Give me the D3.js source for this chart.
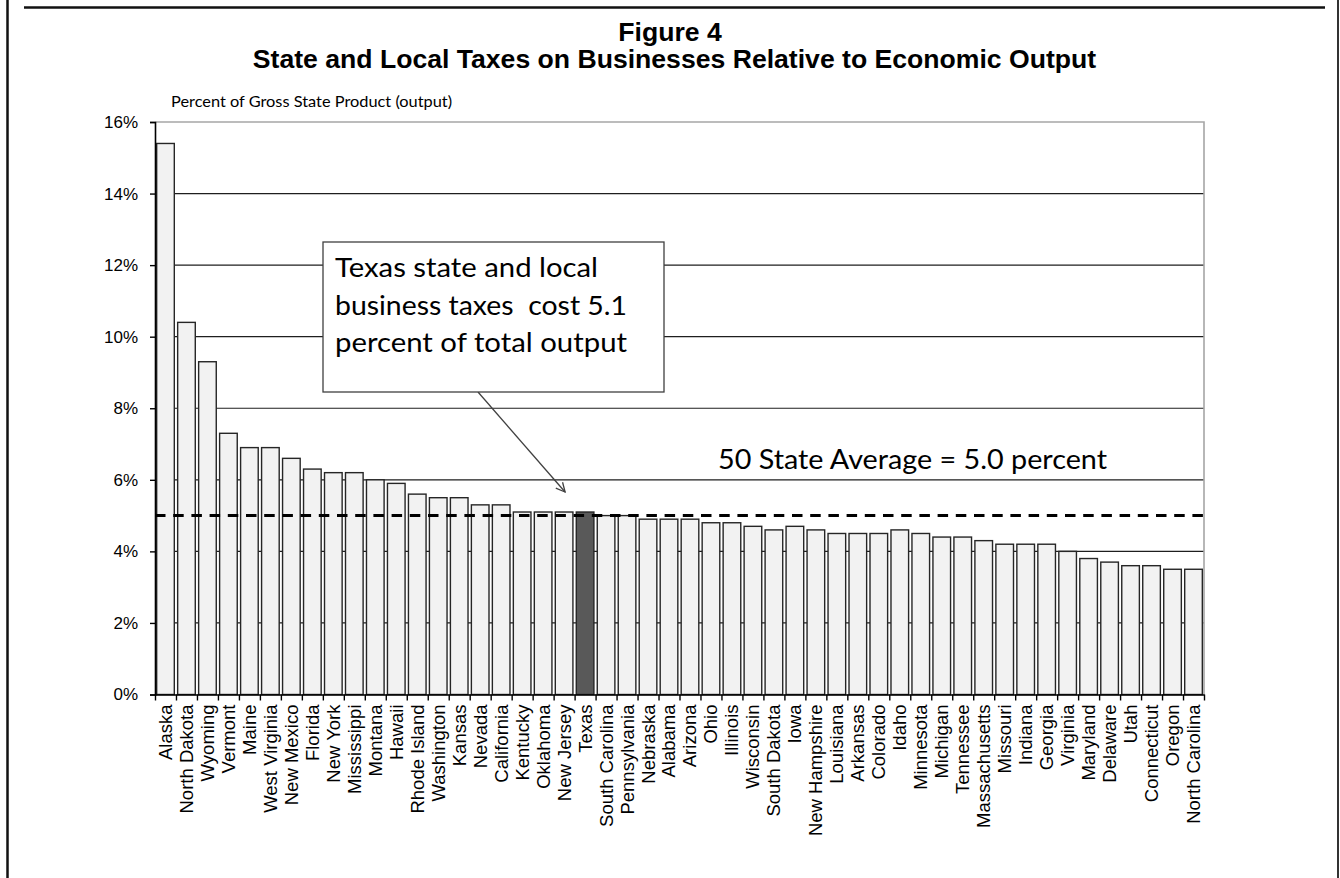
<!DOCTYPE html>
<html>
<head>
<meta charset="utf-8">
<script src="https://cdn.jsdelivr.net/npm/d3@7"></script>
<style>
  html, body { margin: 0; padding: 0; background: #fff; }
  svg { display: block; }
  .arial { font-family: "Liberation Sans", Arial, sans-serif; }
  .calibri { font-family: Lato, "Open Sans", sans-serif; white-space: pre; }
</style>
</head>
<body>
<svg id="chart" width="1340" height="878"></svg>
<script>
// State order (highest to lowest) and business tax share of gross state product, in percent
const states = [
  "Alaska", "North Dakota", "Wyoming", "Vermont", "Maine", "West Virginia", "New Mexico",
  "Florida", "New York", "Mississippi", "Montana", "Hawaii", "Rhode Island", "Washington",
  "Kansas", "Nevada", "California", "Kentucky", "Oklahoma", "New Jersey", "Texas",
  "South Carolina", "Pennsylvania", "Nebraska", "Alabama", "Arizona", "Ohio", "Illinois",
  "Wisconsin", "South Dakota", "Iowa", "New Hampshire", "Louisiana", "Arkansas", "Colorado",
  "Idaho", "Minnesota", "Michigan", "Tennessee", "Massachusetts", "Missouri", "Indiana",
  "Georgia", "Virginia", "Maryland", "Delaware", "Utah", "Connecticut", "Oregon", "North Carolina"
];
const taxShare = [
  15.4, 10.4, 9.3, 7.3, 6.9, 6.9, 6.6, 6.3, 6.2, 6.2,
  6.0, 5.9, 5.6, 5.5, 5.5, 5.3, 5.3, 5.1, 5.1, 5.1,
  5.1, 5.0, 5.0, 4.9, 4.9, 4.9, 4.8, 4.8, 4.7, 4.6,
  4.7, 4.6, 4.5, 4.5, 4.5, 4.6, 4.5, 4.4, 4.4, 4.3,
  4.2, 4.2, 4.2, 4.0, 3.8, 3.7, 3.6, 3.6, 3.5, 3.5
];
const highlightState = "Texas";
const stateAverage = 5.0;
const yTicks = [0, 2, 4, 6, 8, 10, 12, 14, 16];

const titleLines = ["Figure 4", "State and Local Taxes on Businesses Relative to Economic Output"];
const yAxisTitle = "Percent of Gross State Product (output)";
const calloutLines = ["Texas state and local", "business taxes  cost 5.1", "percent of total output"];
const averageLabel = "50 State Average = 5.0 percent";

const svg = d3.select("#chart");

// page frame
const frame = svg.append("g").attr("stroke", "#111").attr("fill", "none");
frame.append("line").attr("x1", 7.5).attr("x2", 7.5).attr("y1", 0).attr("y2", 878).attr("stroke-width", 2.5);
frame.append("line").attr("x1", 24).attr("x2", 1325).attr("y1", 7.5).attr("y2", 7.5).attr("stroke-width", 2.5);
frame.append("line").attr("x1", 1338).attr("x2", 1338).attr("y1", 0).attr("y2", 878).attr("stroke-width", 2).attr("stroke", "#333");

// two-line title
svg.append("text").attr("class", "arial").attr("x", 670).attr("y", 41)
  .attr("text-anchor", "middle").attr("font-size", 26.6).attr("font-weight", "bold")
  .text(titleLines[0]);
svg.append("text").attr("class", "arial").attr("x", 674.5).attr("y", 68)
  .attr("text-anchor", "middle").attr("font-size", 26.6).attr("font-weight", "bold")
  .text(titleLines[1]);

// plot area
const plot = { left: 155, right: 1204, top: 122, bottom: 694.5 };

const x = d3.scaleBand()
  .domain(states)
  .range([plot.left, plot.right])
  .paddingInner(0.16)
  .paddingOuter(0.08);

const y = d3.scaleLinear()
  .domain([0, 16])
  .range([plot.bottom, plot.top]);

// category boundary positions, for the tick marks between bars
const boundary = d3.scaleLinear().domain([0, states.length]).range([plot.left, plot.right]);

// gridlines
svg.append("g")
  .selectAll("line")
  .data(yTicks.filter(t => t > 0 && t < 16))
  .join("line")
  .attr("x1", plot.left).attr("x2", plot.right)
  .attr("y1", d => y(d)).attr("y2", d => y(d))
  .attr("stroke", "#1e1e1e").attr("stroke-width", 1.2);

// plot border (top and right)
svg.append("path")
  .attr("d", `M${plot.left},${y(16)}H${plot.right}V${plot.bottom}`)
  .attr("fill", "none").attr("stroke", "#a6a6a6").attr("stroke-width", 1.6);

// bars
svg.append("g")
  .selectAll("rect")
  .data(states.map((s, i) => ({ state: s, value: taxShare[i] })))
  .join("rect")
  .attr("x", d => x(d.state))
  .attr("width", x.bandwidth())
  .attr("y", d => y(d.value))
  .attr("height", d => y(0) - y(d.value))
  .attr("fill", d => d.state === highlightState ? "#595959" : "#f2f2f2")
  .attr("stroke", "#262626")
  .attr("stroke-width", 1.4);

// average line
svg.append("line")
  .attr("x1", plot.left).attr("x2", plot.right)
  .attr("y1", y(stateAverage)).attr("y2", y(stateAverage))
  .attr("stroke", "#000").attr("stroke-width", 3)
  .attr("stroke-dasharray", "10.5,7.7");

// y axis
const yAxis = svg.append("g")
  .attr("transform", `translate(${plot.left},0)`)
  .call(d3.axisLeft(y).tickValues(yTicks).tickFormat(d => d + "%").tickSize(5).tickPadding(12));
yAxis.select(".domain").attr("stroke", "#000").attr("stroke-width", 1.6);
yAxis.selectAll(".tick line").attr("stroke", "#000").attr("stroke-width", 1.4);
yAxis.selectAll(".tick text")
  .attr("class", "arial").attr("font-size", 17).attr("fill", "#000");

// x axis: tick marks at category boundaries
const xAxis = svg.append("g")
  .attr("transform", `translate(0,${plot.bottom})`)
  .call(d3.axisBottom(boundary).tickValues(d3.range(states.length + 1)).tickFormat("").tickSize(6).tickSizeOuter(0));
xAxis.select(".domain").attr("stroke", "#000").attr("stroke-width", 1.6);
xAxis.selectAll(".tick line").attr("stroke", "#000").attr("stroke-width", 1.4);

// rotated state labels
svg.append("g")
  .selectAll("text")
  .data(states)
  .join("text")
  .attr("class", "arial")
  .attr("font-size", 18.5)
  .attr("text-anchor", "end")
  .attr("dy", "0.35em")
  .attr("transform", d => `translate(${x(d) + x.bandwidth() / 2},${plot.bottom + 10}) rotate(-90)`)
  .text(d => d);

// y axis title
svg.append("text").attr("class", "calibri")
  .attr("x", 171).attr("y", 106.5)
  .attr("font-size", 14.7)
  .attr("textLength", 281).attr("lengthAdjust", "spacingAndGlyphs")
  .text(yAxisTitle);

// average label
svg.append("text").attr("class", "calibri")
  .attr("x", 718).attr("y", 469)
  .attr("font-size", 26)
  .attr("textLength", 389).attr("lengthAdjust", "spacingAndGlyphs")
  .text(averageLabel);

// callout box with arrow pointing at the highlighted bar
const callout = { x: 323, y: 242, w: 341, h: 150 };
svg.append("defs").append("marker")
  .attr("id", "openArrow")
  .attr("viewBox", "-10 -6 12 12")
  .attr("refX", 0).attr("refY", 0)
  .attr("markerWidth", 12).attr("markerHeight", 12)
  .attr("markerUnits", "userSpaceOnUse")
  .attr("orient", "auto")
  .append("path")
  .attr("d", "M-9,-4.5L0,0L-9,4.5")
  .attr("fill", "none").attr("stroke", "#404040").attr("stroke-width", 1.3);

const tx = x(highlightState) + x.bandwidth() / 2;
svg.append("line")
  .attr("x1", 478).attr("y1", callout.y + callout.h)
  .attr("x2", tx - 20).attr("y2", y(taxShare[states.indexOf(highlightState)]) - 20)
  .attr("stroke", "#404040").attr("stroke-width", 1.3)
  .attr("marker-end", "url(#openArrow)");

svg.append("rect")
  .attr("x", callout.x).attr("y", callout.y)
  .attr("width", callout.w).attr("height", callout.h)
  .attr("fill", "#fff").attr("stroke", "#404040").attr("stroke-width", 1.3);

const calloutWidths = [263, 292, 292];
svg.append("g")
  .selectAll("text")
  .data(calloutLines)
  .join("text")
  .attr("class", "calibri")
  .attr("x", 335)
  .attr("y", (d, i) => 277 + i * 37.5)
  .attr("font-size", 26.5)
  .attr("textLength", (d, i) => calloutWidths[i])
  .attr("lengthAdjust", "spacingAndGlyphs")
  .text(d => d);
</script>
</body>
</html>
